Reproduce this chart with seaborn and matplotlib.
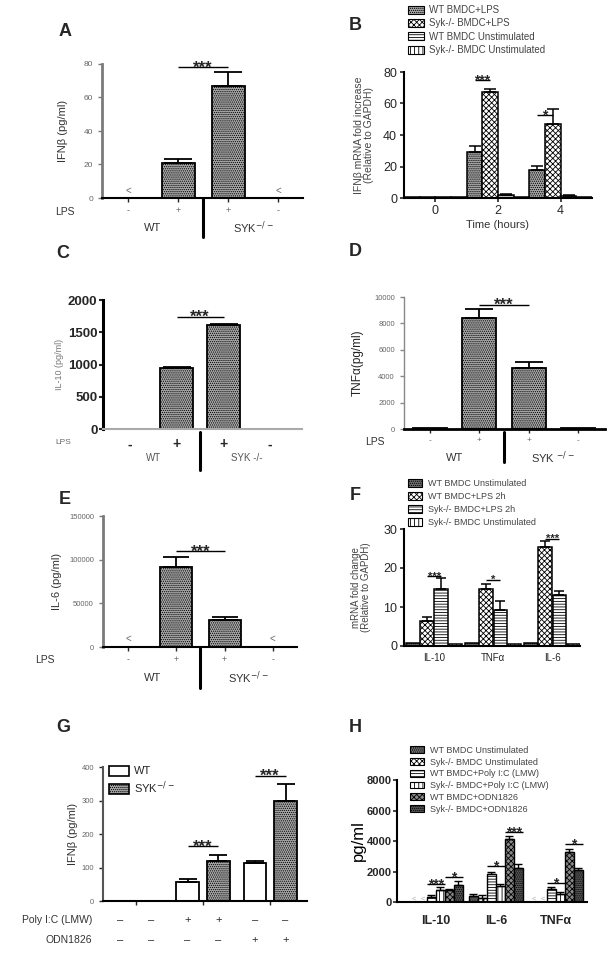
#!/usr/bin/env python3
"""
Syk-/- vs WT BMDC cytokine panels (A-H), redrawn with seaborn bar plots.
"""

import numpy as np
import pandas as pd
import matplotlib
matplotlib.use("Agg")
import matplotlib.pyplot as plt
import matplotlib.transforms as mtransforms
from matplotlib.patches import Patch
import seaborn as sns

# Canvas size in pixels (saved at 100 dpi)
W, H = 614, 955

# ---------------- data ----------------
# A: IFN-beta protein, LPS stimulation
LPS_groups = ["WT -", "WT +", "SYK +", "SYK -"]
LPS_signs = ["-", "+", "+", "-"]
A_values = [0, 21, 67, 0]
A_errors = [0, 2.5, 8.5, 0]
A_sig = (1, 2, 78, "***")

# B: IFN-beta mRNA time course
B_times = [0, 2, 4]
B_series = ["WT BMDC+LPS", "Syk-/- BMDC+LPS", "WT BMDC Unstimulated", "Syk-/- BMDC Unstimulated"]
B_wt_lps = [0.5, 29, 18]
B_syk_lps = [0.5, 67, 47]
B_wt_unstim = [0.5, 2, 1.5]
B_syk_unstim = [0.5, 0.5, 0.5]
B_wt_lps_err = [0, 4, 2.5]
B_syk_lps_err = [0, 2.5, 9.5]
B_wt_unstim_err = [0, 0.5, 0.5]
B_syk_unstim_err = [0, 0, 0]
B_sig = [(1, 75, "***"), (2, 53, "*")]

# C: IL-10 protein
C_values = [0, 940, 1620, 0]
C_errors = [0, 25, 15, 0]
C_sig = (1, 2, 1740, "***")

# D: TNF-alpha protein
D_values = [80, 8400, 4650, 80]
D_errors = [0, 700, 400, 0]
D_sig = (1, 2, 9400, "***")

# E: IL-6 protein
E_values = [0, 92000, 31000, 0]
E_errors = [0, 11000, 3500, 0]
E_sig = (1, 2, 110000, "***")

# F: cytokine mRNA at 2h
F_genes = ["IL-10", "TNFα", "IL-6"]
F_series = ["WT BMDC Unstimulated", "WT BMDC+LPS 2h", "Syk-/- BMDC+LPS 2h", "Syk-/- BMDC Unstimulated"]
F_wt_unstim = [0.8, 0.8, 0.8]
F_wt_lps = [6.5, 14.5, 25.5]
F_syk_lps = [14.5, 9.3, 13]
F_syk_unstim = [0.5, 0.4, 0.4]
F_wt_unstim_err = [0, 0, 0]
F_wt_lps_err = [1, 1.5, 1.5]
F_syk_lps_err = [3, 2.3, 1]
F_syk_unstim_err = [0, 0, 0]
F_sig = [(0, 18, "***"), (1, 17, "*"), (2, 27.5, "***")]

# G: IFN-beta after Poly I:C / ODN1826
G_stims = ["none", "Poly I:C", "ODN1826"]
G_genotypes = ["WT", "SYK$^{-/-}$"]
G_wt = [0, 57, 112]
G_syk = [0, 120, 298]
G_wt_err = [0, 9, 6]
G_syk_err = [0, 18, 50]
G_poly_row = ["–", "–", "+", "+", "–", "–"]
G_odn_row = ["–", "–", "–", "–", "+", "+"]
G_sig = [(1, 163, "***"), (2, 374, "***")]

# H: cytokines after Poly I:C / ODN1826
H_cytokines = ["IL-10", "IL-6", "TNFα"]
H_series = ["WT BMDC Unstimulated", "Syk-/- BMDC Unstimulated", "WT BMDC+Poly I:C (LMW)",
            "Syk-/- BMDC+Poly I:C (LMW)", "WT BMDC+ODN1826", "Syk-/- BMDC+ODN1826"]
H_wt_unstim = [0, 420, 0]
H_syk_unstim = [0, 250, 0]
H_wt_poly = [350, 1850, 860]
H_syk_poly = [800, 1050, 530]
H_wt_odn = [780, 4150, 3250]
H_syk_odn = [1100, 2260, 2100]
H_wt_unstim_err = [0, 120, 0]
H_syk_unstim_err = [0, 200, 0]
H_wt_poly_err = [80, 150, 150]
H_syk_poly_err = [180, 150, 150]
H_wt_odn_err = [60, 200, 250]
H_syk_odn_err = [280, 250, 150]
H_sig = [(0, 2, 3, 1190, "***"), (0, 4, 5, 1630, "*"), (1, 2, 3, 2370, "*"),
         (1, 4, 5, 4600, "***"), (2, 2, 3, 1230, "*"), (2, 4, 5, 3820, "*")]

# ---------------- fill styles ----------------
DOTS = ("#a8a8a8", "........")
CHECK = ("white", "xxxxxx")
HLINES = ("white", "------")
VLINES = ("white", "||||")
DARK_DOTS = ("#6e6e6e", "........")
DARK_CHECK = ("#8a8a8a", "xxxxxx")
DARKEST = ("#555555", "........")
WHITE = ("white", "")

GREY_TXT = "#666666"


def add_axes(fig, left, top, right, bottom):
    """Add axes from a pixel box (origin top-left)"""
    return fig.add_axes([left / W, 1 - bottom / H, (right - left) / W, (bottom - top) / H])


def fig_text(fig, x, y, s, **kw):
    return fig.text(x / W, 1 - y / H, s, **kw)


def below(ax):
    """x in data units, y in figure fraction"""
    return mtransforms.blended_transform_factory(ax.transData, ax.figure.transFigure)


def ylabel_at(fig, ax, x_px, text, **kw):
    pos = ax.get_position()
    fig.text(x_px / W, pos.y0 + pos.height / 2, text, rotation=90,
             ha="center", va="center", **kw)


def sorted_bars(container):
    return sorted(container, key=lambda p: p.get_x())


def style_bars(bars, style, lw=1.3):
    face, hatch = style
    for p in bars:
        p.set_facecolor(face)
        p.set_hatch(hatch)
        p.set_edgecolor("black")
        p.set_linewidth(lw)


def center(p):
    return p.get_x() + p.get_width() / 2


def add_errors(ax, bars, errors, lw=1.3, cap_frac=0.42):
    xs, ys, es = [], [], []
    for p, e in zip(bars, errors):
        if e > 0:
            xs.append(center(p))
            ys.append(p.get_height())
            es.append(e)
    if not xs:
        return
    w = bars[0].get_width()
    px = ax.transData.transform((w, 0))[0] - ax.transData.transform((0, 0))[0]
    cap = cap_frac * px * 72 / ax.figure.dpi
    ax.errorbar(xs, ys, yerr=[np.zeros(len(es)), es], fmt="none", ecolor="black",
                elinewidth=lw, capsize=cap, capthick=lw, zorder=3)


def add_sig(ax, x0, x1, y, label, fontsize=12, lw=1.0):
    ax.plot([x0, x1], [y, y], color="black", lw=lw, clip_on=False, solid_capstyle="butt")
    ax.annotate(label, xy=((x0 + x1) / 2, y), xytext=(0, -0.32 * fontsize),
                textcoords="offset points", ha="center", va="baseline",
                fontsize=fontsize, fontweight="bold", annotation_clip=False)


def spines(ax, left_color="black", left_lw=1.5, bottom_color="black", bottom_lw=1.5):
    sns.despine(ax=ax)
    ax.spines["left"].set_color(left_color)
    ax.spines["left"].set_linewidth(left_lw)
    ax.spines["bottom"].set_color(bottom_color)
    ax.spines["bottom"].set_linewidth(bottom_lw)


def lps_panel(fig, box, values, errors, xlim, ylim, yticks, width, sig):
    """Single series bar chart with the LPS -/+ row"""
    ax = add_axes(fig, *box)
    sns.barplot(x=LPS_groups, y=values, order=LPS_groups, ax=ax, errorbar=None,
                width=width, color=DOTS[0])
    bars = sorted_bars(ax.containers[0])
    style_bars(bars, DOTS)
    ax.set_xlim(*xlim)
    ax.set_ylim(*ylim)
    ax.set_yticks(yticks)
    ax.set_xticks(range(len(LPS_groups)), LPS_signs)
    ax.set_xlabel("")
    ax.set_ylabel("")
    add_errors(ax, bars, errors)
    i, j, y, label = sig
    add_sig(ax, center(bars[i]), center(bars[j]), y, label)
    return ax, bars


def group_rows(ax, y_label_px, y_div_top, y_div_bottom, fontsize, color, syk_text):
    tr = below(ax)
    ax.text(0.5, 1 - y_label_px / H, "WT", transform=tr, ha="center", va="center",
            fontsize=fontsize, color=color)
    ax.text(2.5, 1 - y_label_px / H, syk_text, transform=tr, ha="center", va="center",
            fontsize=fontsize, color=color)
    ax.plot([1.5, 1.5], [1 - y_div_top / H, 1 - y_div_bottom / H], transform=tr,
            color="black", lw=2.2, clip_on=False)


def zero_marks(ax, bars, values, y, color=GREY_TXT, fontsize=7):
    for p, v in zip(bars, values):
        if v == 0:
            ax.text(center(p), y, "<", ha="center", va="center", fontsize=fontsize, color=color)


def panel_a(fig):
    ax, bars = lps_panel(fig, (102, 64, 303, 198), A_values, A_errors, (-0.52, 3.5),
                         (0, 80), [0, 20, 40, 60, 80], 0.66, A_sig)
    spines(ax, left_color="#7a7a7a", left_lw=2)
    ax.tick_params(axis="y", length=3, width=1, labelsize=6, labelcolor=GREY_TXT, color="#7a7a7a")
    ax.tick_params(axis="x", length=3, width=1, labelsize=6.5, labelcolor=GREY_TXT, pad=3)
    zero_marks(ax, bars, A_values, 4)
    ylabel_at(fig, ax, 63, "IFNβ (pg/ml)", fontsize=8, color="#333333")
    fig_text(fig, 55, 212, "LPS", ha="left", va="center", fontsize=7.5, color="#333333")
    group_rows(ax, 228, 198, 237, 8, "#333333", "SYK$^{-/-}$")
    fig_text(fig, 65, 32, "A", ha="center", va="center", fontsize=13, fontweight="bold")


def panel_b(fig):
    ax = add_axes(fig, 404, 72, 592, 198)
    cols = [B_wt_lps, B_syk_lps, B_wt_unstim, B_syk_unstim]
    errs = [B_wt_lps_err, B_syk_lps_err, B_wt_unstim_err, B_syk_unstim_err]
    df = pd.DataFrame({
        "time": np.tile(B_times, len(B_series)),
        "value": np.concatenate(cols),
        "series": np.repeat(B_series, len(B_times)),
    })
    sns.barplot(data=df, x="time", y="value", hue="series", hue_order=B_series,
                native_scale=True, width=1.0, errorbar=None, legend=False, ax=ax)
    styles = [DOTS, CHECK, HLINES, VLINES]
    all_bars = []
    for cont, style in zip(ax.containers, styles):
        bars = sorted_bars(cont)
        style_bars(bars, style, lw=1.1)
        all_bars.append(bars)
    ax.set_xlim(-1, 5)
    ax.set_ylim(0, 80)
    ax.set_xticks(B_times)
    ax.set_yticks([0, 20, 40, 60, 80])
    ax.set_xlabel("Time (hours)", fontsize=8, color="#333333", labelpad=2)
    ax.set_ylabel("")
    spines(ax)
    ax.tick_params(axis="both", length=3, width=1.2, labelsize=9, pad=2)
    for bars, e in zip(all_bars, errs):
        add_errors(ax, bars, e, lw=1.1, cap_frac=0.4)
    for t, y, label in B_sig:
        add_sig(ax, center(all_bars[0][t]), center(all_bars[1][t]), y, label, fontsize=10)
    ylabel_at(fig, ax, 364, "IFNβ mRNA fold increase\n(Relative to GAPDH)",
              fontsize=7.5, color="#444444", linespacing=1.1)
    handles = [Patch(facecolor=s[0], hatch=s[1], edgecolor="black", lw=0.8) for s in styles]
    fig.legend(handles, B_series, loc="upper left", bbox_to_anchor=(408 / W, 1 - 5 / H),
               frameon=False, fontsize=7, handlelength=1.6, handleheight=0.9,
               labelspacing=0.35, handletextpad=0.6, borderaxespad=0, borderpad=0,
               labelcolor="#444444")
    fig_text(fig, 355, 25, "B", ha="center", va="center", fontsize=13, fontweight="bold")


def panel_c(fig):
    ax, bars = lps_panel(fig, (103, 300, 302, 429), C_values, C_errors, (-0.58, 3.68),
                         (0, 2000), [0, 500, 1000, 1500, 2000], 0.7, C_sig)
    spines(ax, left_lw=2.2, bottom_color="#aaaaaa", bottom_lw=1.5)
    ax.tick_params(axis="y", length=3, width=1.5, labelsize=9.5, pad=1)
    ax.tick_params(axis="x", length=0, labelsize=10, pad=6)
    for t in ax.get_yticklabels() + ax.get_xticklabels():
        t.set_fontweight("bold")
    ylabel_at(fig, ax, 60, "IL-10 (pg/ml)", fontsize=6.5, color="#777777")
    fig_text(fig, 55, 442, "LPS", ha="left", va="center", fontsize=6, color="#666666")
    group_rows(ax, 458, 432, 470, 7, "#555555", "SYK -/-")
    fig_text(fig, 63, 253, "C", ha="center", va="center", fontsize=13, fontweight="bold")


def panel_d(fig):
    ax, bars = lps_panel(fig, (404, 297, 605, 429), D_values, D_errors, (-0.53, 3.55),
                         (0, 10000), [0, 2000, 4000, 6000, 8000, 10000], 0.69, D_sig)
    spines(ax, left_color="#888888", left_lw=1.0, bottom_lw=2)
    ax.tick_params(axis="y", length=3, width=1, labelsize=5.5, labelcolor=GREY_TXT, color="#888888")
    ax.tick_params(axis="x", length=3, width=1, labelsize=6, labelcolor=GREY_TXT, pad=3)
    ylabel_at(fig, ax, 358, "TNFα(pg/ml)", fontsize=8.5, color="#222222")
    fig_text(fig, 365, 442, "LPS", ha="left", va="center", fontsize=7.5, color="#333333")
    group_rows(ax, 458, 432, 462, 8, "#333333", "SYK $^{-/-}$")
    fig_text(fig, 355, 252, "D", ha="center", va="center", fontsize=13, fontweight="bold")


def panel_e(fig):
    ax, bars = lps_panel(fig, (103, 516, 297, 647), E_values, E_errors, (-0.52, 3.5),
                         (0, 150000), [0, 50000, 100000, 150000], 0.66, E_sig)
    spines(ax, left_color="#7a7a7a", left_lw=2)
    ax.tick_params(axis="y", length=3, width=1, labelsize=5.5, labelcolor=GREY_TXT, color="#7a7a7a")
    ax.tick_params(axis="x", length=3, width=1, labelsize=6.5, labelcolor=GREY_TXT, pad=3)
    zero_marks(ax, bars, E_values, 9000)
    ylabel_at(fig, ax, 57, "IL-6 (pg/ml)", fontsize=8, color="#333333")
    fig_text(fig, 35, 660, "LPS", ha="left", va="center", fontsize=7.5, color="#333333")
    group_rows(ax, 678, 647, 688, 8, "#333333", "SYK$^{-/-}$")
    fig_text(fig, 65, 499, "E", ha="center", va="center", fontsize=13, fontweight="bold")


def panel_f(fig):
    ax = add_axes(fig, 404, 529, 580, 646)
    cols = [F_wt_unstim, F_wt_lps, F_syk_lps, F_syk_unstim]
    errs = [F_wt_unstim_err, F_wt_lps_err, F_syk_lps_err, F_syk_unstim_err]
    df = pd.DataFrame({
        "gene": np.tile(F_genes, len(F_series)),
        "value": np.concatenate(cols),
        "series": np.repeat(F_series, len(F_genes)),
    })
    sns.barplot(data=df, x="gene", y="value", hue="series", order=F_genes, hue_order=F_series,
                width=0.96, gap=0.05, errorbar=None, legend=False, ax=ax)
    styles = [DARK_DOTS, CHECK, HLINES, VLINES]
    all_bars = []
    for cont, style in zip(ax.containers, styles):
        bars = sorted_bars(cont)
        style_bars(bars, style, lw=1.1)
        all_bars.append(bars)
    ax.set_xlim(-0.51, 2.47)
    ax.set_ylim(0, 30)
    ax.set_yticks([0, 10, 20, 30])
    ax.set_xlabel("")
    ax.set_ylabel("")
    spines(ax)
    ax.tick_params(axis="y", length=3, width=1.2, labelsize=9, pad=2)
    ax.tick_params(axis="x", length=0, labelsize=7, pad=5)
    for bars, e in zip(all_bars, errs):
        add_errors(ax, bars, e, lw=1.1, cap_frac=0.4)
    for g, y, label in F_sig:
        add_sig(ax, center(all_bars[1][g]), center(all_bars[2][g]), y, label, fontsize=8)
    ylabel_at(fig, ax, 361, "mRNA fold change\n(Relative to GAPDH)",
              fontsize=7, color="#444444", linespacing=1.1)
    handles = [Patch(facecolor=s[0], hatch=s[1], edgecolor="black", lw=0.8) for s in styles]
    fig.legend(handles, F_series, loc="upper left", bbox_to_anchor=(408 / W, 1 - 479 / H),
               frameon=False, fontsize=6.5, handlelength=1.6, handleheight=0.9,
               labelspacing=0.45, handletextpad=0.6, borderaxespad=0, borderpad=0,
               labelcolor="#444444")
    fig_text(fig, 355, 495, "F", ha="center", va="center", fontsize=13, fontweight="bold")


def panel_g(fig):
    ax = add_axes(fig, 103, 767, 307, 901)
    df = pd.DataFrame({
        "stim": np.tile(G_stims, 2),
        "value": np.concatenate([G_wt, G_syk]),
        "genotype": np.repeat(G_genotypes, len(G_stims)),
    })
    sns.barplot(data=df, x="stim", y="value", hue="genotype", order=G_stims,
                hue_order=G_genotypes, width=0.92, gap=0.28, errorbar=None, legend=False, ax=ax)
    styles = [WHITE, DOTS]
    all_bars = []
    for cont, style in zip(ax.containers, styles):
        bars = sorted_bars(cont)
        style_bars(bars, style)
        all_bars.append(bars)
    ax.set_xlim(-0.49, 2.55)
    ax.set_ylim(0, 400)
    ax.set_yticks([0, 100, 200, 300, 400])
    ax.set_xticks(range(len(G_stims)), ["", "", ""])
    ax.set_xlabel("")
    ax.set_ylabel("")
    spines(ax, left_color="#555555", left_lw=1.5)
    ax.tick_params(axis="y", length=3, width=1, labelsize=5.5, labelcolor=GREY_TXT)
    ax.tick_params(axis="x", length=3, width=1)
    for bars, e in zip(all_bars, [G_wt_err, G_syk_err]):
        add_errors(ax, bars, e)
    for g, y, label in G_sig:
        add_sig(ax, center(all_bars[0][g]), center(all_bars[1][g]), y, label, fontsize=12)
    # treatment rows under the axis
    xs = sorted(center(p) for bars in all_bars for p in bars)
    tr = below(ax)
    for x, s1, s2 in zip(xs, G_poly_row, G_odn_row):
        ax.text(x, 1 - 920 / H, s1, transform=tr, ha="center", va="center", fontsize=8)
        ax.text(x, 1 - 940 / H, s2, transform=tr, ha="center", va="center", fontsize=8)
    fig_text(fig, 92, 920, "Poly I:C (LMW)", ha="right", va="center", fontsize=7.5, color="#333333")
    fig_text(fig, 92, 940, "ODN1826", ha="right", va="center", fontsize=7.5, color="#333333")
    ylabel_at(fig, ax, 73, "IFNβ (pg/ml)", fontsize=8, color="#333333")
    handles = [Patch(facecolor=s[0], hatch=s[1], edgecolor="black", lw=1.2) for s in styles]
    ax.legend(handles, G_genotypes, loc="upper left", bbox_to_anchor=(0.03, 1.01),
              frameon=False, fontsize=8, handlelength=1.8, handleheight=1.0,
              labelspacing=0.3, handletextpad=0.4, borderaxespad=0, borderpad=0)
    fig_text(fig, 63, 727, "G", ha="center", va="center", fontsize=13, fontweight="bold")


def panel_h(fig):
    ax = add_axes(fig, 397, 780, 587, 902)
    cols = [H_wt_unstim, H_syk_unstim, H_wt_poly, H_syk_poly, H_wt_odn, H_syk_odn]
    errs = [H_wt_unstim_err, H_syk_unstim_err, H_wt_poly_err, H_syk_poly_err,
            H_wt_odn_err, H_syk_odn_err]
    df = pd.DataFrame({
        "cytokine": np.tile(H_cytokines, len(H_series)),
        "value": np.concatenate(cols),
        "series": np.repeat(H_series, len(H_cytokines)),
    })
    sns.barplot(data=df, x="cytokine", y="value", hue="series", order=H_cytokines,
                hue_order=H_series, width=0.9, errorbar=None, legend=False, ax=ax)
    styles = [DARK_DOTS, CHECK, HLINES, VLINES, DARK_CHECK, DARKEST]
    all_bars = []
    for cont, style in zip(ax.containers, styles):
        bars = sorted_bars(cont)
        style_bars(bars, style, lw=1.0)
        all_bars.append(bars)
    ax.set_xlim(-0.65, 2.52)
    ax.set_ylim(0, 8000)
    ax.set_yticks([0, 2000, 4000, 6000, 8000])
    ax.set_xlabel("")
    ax.set_ylabel("")
    spines(ax)
    ax.tick_params(axis="y", length=3, width=1.2, labelsize=8, pad=1)
    ax.tick_params(axis="x", length=0, labelsize=9, pad=9)
    for t in ax.get_yticklabels() + ax.get_xticklabels():
        t.set_fontweight("bold")
    for bars, e in zip(all_bars, errs):
        add_errors(ax, bars, e, lw=1.0, cap_frac=0.45)
    for bars, vals in zip(all_bars, cols):
        zero_marks(ax, bars, vals, 180, color="#aaaaaa", fontsize=5.5)
    for g, a, b, y, label in H_sig:
        add_sig(ax, all_bars[a][g].get_x(), all_bars[b][g].get_x() + all_bars[b][g].get_width(),
                y, label, fontsize=10)
    ylabel_at(fig, ax, 358, "pg/ml", fontsize=12, color="black")
    handles = [Patch(facecolor=s[0], hatch=s[1], edgecolor="black", lw=0.8) for s in styles]
    fig.legend(handles, H_series, loc="upper left", bbox_to_anchor=(410 / W, 1 - 746 / H),
               frameon=False, fontsize=6.5, handlelength=1.6, handleheight=0.8,
               labelspacing=0.3, handletextpad=0.6, borderaxespad=0, borderpad=0,
               labelcolor="#444444")
    fig_text(fig, 355, 727, "H", ha="center", va="center", fontsize=13, fontweight="bold")


def main():
    sns.set_style("ticks")
    plt.rcParams["font.family"] = ["Liberation Sans", "DejaVu Sans"]
    plt.rcParams["hatch.linewidth"] = 0.6
    plt.rcParams["xtick.direction"] = "out"
    plt.rcParams["ytick.direction"] = "out"

    fig = plt.figure(figsize=(W / 100, H / 100), dpi=100)
    panel_a(fig)
    panel_b(fig)
    panel_c(fig)
    panel_d(fig)
    panel_e(fig)
    panel_f(fig)
    panel_g(fig)
    panel_h(fig)
    fig.savefig("out.png", dpi=100, facecolor="white")


if __name__ == "__main__":
    main()
